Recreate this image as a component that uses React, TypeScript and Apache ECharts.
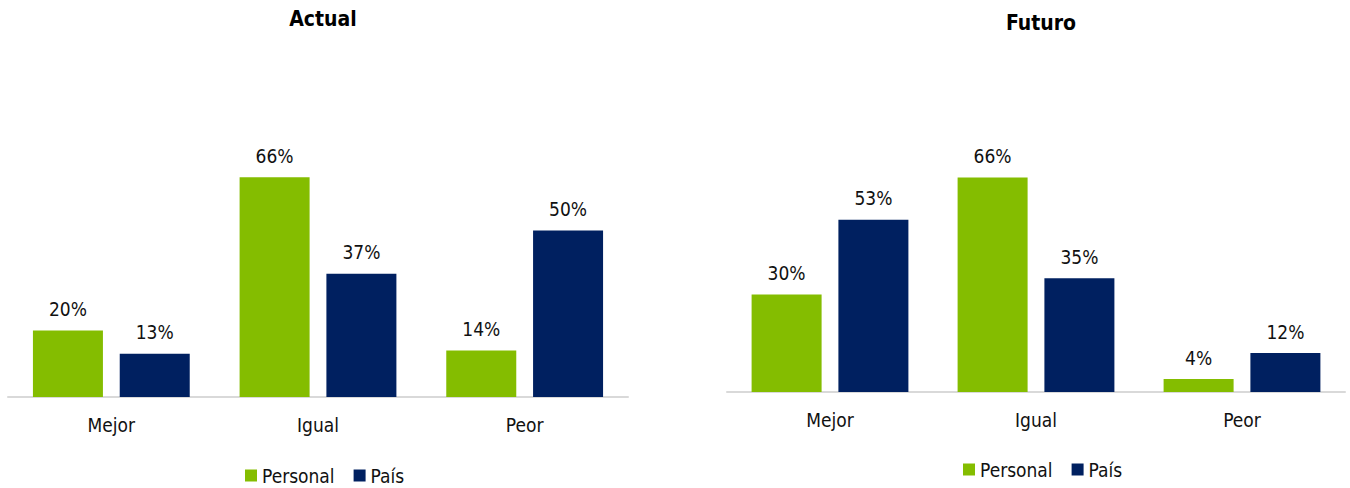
import React, { useEffect, useRef } from "react";
import * as echarts from "echarts";

const categories = ["Mejor", "Igual", "Peor"];
const seriesNames = ["Personal", "País"];
const actualPersonal = [20, 66, 14];
const actualPais = [13, 37, 50];
const futuroPersonal = [30, 66, 4];
const futuroPais = [53, 35, 12];
const titles = ["Actual", "Futuro"];

const GREEN = "#84BD00";
const NAVY = "#002060";
const FONT = "'Liberation Sans Narrow', 'DejaVu Sans Condensed', 'Arial Narrow', sans-serif";

export default function App() {
  const ref = useRef<HTMLDivElement>(null);
  useEffect(() => {
    if (!ref.current) return;
    const chart = echarts.init(ref.current, null, { renderer: "svg" });
    const label = {
      show: true,
      position: "top",
      distance: 12,
      formatter: "{c}%",
      color: "#111",
      fontSize: 19,
      fontFamily: FONT,
    };
    const mkSeries = (name: string, data: number[], idx: number, color: string) => ({
      type: "bar",
      name,
      data,
      xAxisIndex: idx,
      yAxisIndex: idx,
      barWidth: 70,
      barGap: "24%",
      itemStyle: { color },
      label,
    });
    const xAxis = (idx: number) => ({
      type: "category",
      gridIndex: idx,
      data: categories,
      axisLine: { lineStyle: { color: "#D9D9D9", width: 2 } },
      axisTick: { show: false },
      axisLabel: { color: "#111", fontSize: 19, fontFamily: FONT, margin: 18 },
    });
    const yAxis = (idx: number) => ({
      type: "value",
      gridIndex: idx,
      min: 0,
      max: 100,
      show: false,
      splitLine: { show: false },
    });
    const legend = (left: number, top: number) => ({
      data: seriesNames,
      left,
      top,
      padding: 0,
      orient: "horizontal",
      itemWidth: 12,
      itemHeight: 12,
      itemGap: 19,
      icon: "rect",
      textStyle: { fontSize: 19, color: "#111", fontFamily: FONT },
    });
    chart.setOption({
      animation: false,
      textStyle: { fontFamily: FONT },
      title: [
        {
          text: titles[0],
          left: 318,
          top: 3,
          textAlign: "center",
          textStyle: { fontSize: 21, fontWeight: "bold", color: "#000", fontFamily: FONT },
        },
        {
          text: titles[1],
          left: 1036,
          top: 7,
          textAlign: "center",
          textStyle: { fontSize: 21, fontWeight: "bold", color: "#000", fontFamily: FONT },
        },
      ],
      legend: [legend(245, 466), legend(963, 460)],
      grid: [
        { left: 8, width: 620, top: 64, height: 333 },
        { left: 727, width: 618, top: 67, height: 325 },
      ],
      xAxis: [xAxis(0), xAxis(1)],
      yAxis: [yAxis(0), yAxis(1)],
      series: [
        mkSeries(seriesNames[0], actualPersonal, 0, GREEN),
        mkSeries(seriesNames[1], actualPais, 0, NAVY),
        mkSeries(seriesNames[0], futuroPersonal, 1, GREEN),
        mkSeries(seriesNames[1], futuroPais, 1, NAVY),
      ],
    });
    return () => chart.dispose();
  }, []);
  return (
    <div
      ref={ref}
      style={{ position: "fixed", left: 0, top: 0, width: 1350, height: 488, background: "#fff" }}
    />
  );
}
